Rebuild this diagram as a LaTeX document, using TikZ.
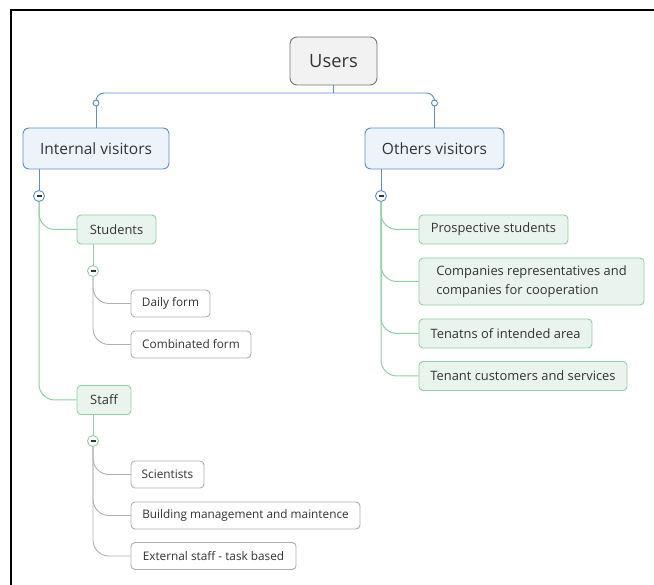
\documentclass[tikz,border=0pt]{standalone}
\usepackage{fontspec}
\setmainfont{Open Sans}
\usetikzlibrary{calc}
\definecolor{bluel}{HTML}{5B8FD0}
\definecolor{bluef}{HTML}{EDF3FB}
\definecolor{greenl}{HTML}{8FD0A2}
\definecolor{greenf}{HTML}{EAF4EE}
\definecolor{greyl}{HTML}{AFAFAF}
\definecolor{txt}{HTML}{333333}
\tikzset{
  box/.style={rectangle, rounded corners=4pt, line width=0.9pt, text=txt, inner sep=0pt, anchor=center},
  rootbox/.style={box, rounded corners=7pt, draw=black!55, fill=black!5, minimum width=87pt, minimum height=48pt, font=\fontsize{18.3}{21}\selectfont},
  mainbox/.style={box, rounded corners=6pt, draw=bluel, fill=bluef, minimum height=41pt, font=\fontsize{15.5}{18}\selectfont},
  subbox/.style={box, draw=greenl, fill=greenf, minimum height=29pt, font=\fontsize{12.9}{18.5}\selectfont},
  leafbox/.style={box, draw=greyl, fill=white, minimum height=27pt, font=\fontsize{11.8}{14}\selectfont},
  bline/.style={draw=bluel, line width=0.9pt},
  gline/.style={draw=greenl, line width=1pt},
  lline/.style={draw=greyl, line width=0.9pt},
  collapse/.style={circle, draw=#1, fill=white, line width=0.9pt, minimum size=11pt, inner sep=0pt,
    path picture={\draw[txt, line width=1.3pt] ($(path picture bounding box.center)+(-2.5pt,0)$) -- ($(path picture bounding box.center)+(2.5pt,0)$);}},
  dot/.style={circle, draw=bluel, fill=white, line width=0.9pt, minimum size=6pt, inner sep=0pt},
}
\begin{document}
\begin{tikzpicture}[x=1pt,y=-1pt]
\useasboundingbox (0,0) rectangle (654,585);
\draw[line width=2pt] (654,10.5) -- (10.5,10.5) -- (10.5,585);

% root and main
\node[rootbox] (users) at (333.5,61) {Users};
\node[mainbox, minimum width=146pt] (iv) at (96,148.5) {Internal visitors};
\node[mainbox, minimum width=139pt] (ov) at (434.5,148.5) {Others visitors};
\node[dot] (d1) at (96,103) {};
\node[dot] (d2) at (434.5,103) {};
\coordinate (j) at (333.5,93);
\draw[bline] (users.south) -- (j);
\draw[bline, rounded corners=8pt] (d1.north) |- (j) -| (d2.north);
\draw[bline] (d1.south) -- (iv.north);
\draw[bline] (d2.south) -- (ov.north);

% collapse buttons of main nodes
\node[collapse=bluel] (c1) at (39,196) {};
\node[collapse=bluel] (c2) at (381,196) {};
\draw[bline] (c1.north) -- (c1.north |- iv.south);
\draw[bline] (c2.north) -- (c2.north |- ov.south);

% internal visitors children
\node[subbox, minimum width=79pt] (stu) at (116.5,229.5) {Students};
\node[subbox, minimum width=54pt] (staff) at (104,400) {Staff};
\draw[gline, rounded corners=16pt] (c1.south) |- (stu.west);
\draw[gline, rounded corners=16pt] (c1.south) |- (staff.west);

\node[collapse=greenl] (c3) at (93,271) {};
\node[collapse=greenl] (c4) at (93,441) {};
\draw[gline] (c3.north) -- (c3.north |- stu.south);
\draw[gline] (c4.north) -- (c4.north |- staff.south);

\node[leafbox, minimum width=79pt] (daily) at (170.5,303.5) {Daily form};
\node[leafbox, minimum width=120pt] (comb) at (191,344.5) {Combinated form};
\draw[lline, rounded corners=16pt] (c3.south) |- (daily.west);
\draw[lline, rounded corners=16pt] (c3.south) |- (comb.west);

\node[leafbox, minimum width=73pt] (sci) at (167.5,474.5) {Scientists};
\node[leafbox, minimum width=229pt] (bld) at (245.5,515.5) {Building management and maintence};
\node[leafbox, minimum width=165pt] (ext) at (213.5,556) {External staff - task based};
\draw[lline, rounded corners=16pt] (c4.south) |- (sci.west);
\draw[lline, rounded corners=16pt] (c4.south) |- (bld.west);
\draw[lline, rounded corners=16pt] (c4.south) |- (ext.west);

% others visitors children
\node[subbox, minimum width=149pt] (pro) at (493.5,229.5) {Prospective students};
\node[subbox, minimum width=225pt, minimum height=47pt, align=left] (com) at (531.5,281.5) {Companies representatives and\\companies for cooperation};
\node[subbox, minimum width=173pt] (ten) at (505.5,333.5) {Tenatns of intended area};
\node[subbox, minimum width=208pt] (tcs) at (523,376) {Tenant customers and services};
\draw[gline, rounded corners=16pt] (c2.south) |- (pro.west);
\draw[gline, rounded corners=16pt] (c2.south) |- (com.west);
\draw[gline, rounded corners=16pt] (c2.south) |- (ten.west);
\draw[gline, rounded corners=16pt] (c2.south) |- (tcs.west);
\end{tikzpicture}
\end{document}
